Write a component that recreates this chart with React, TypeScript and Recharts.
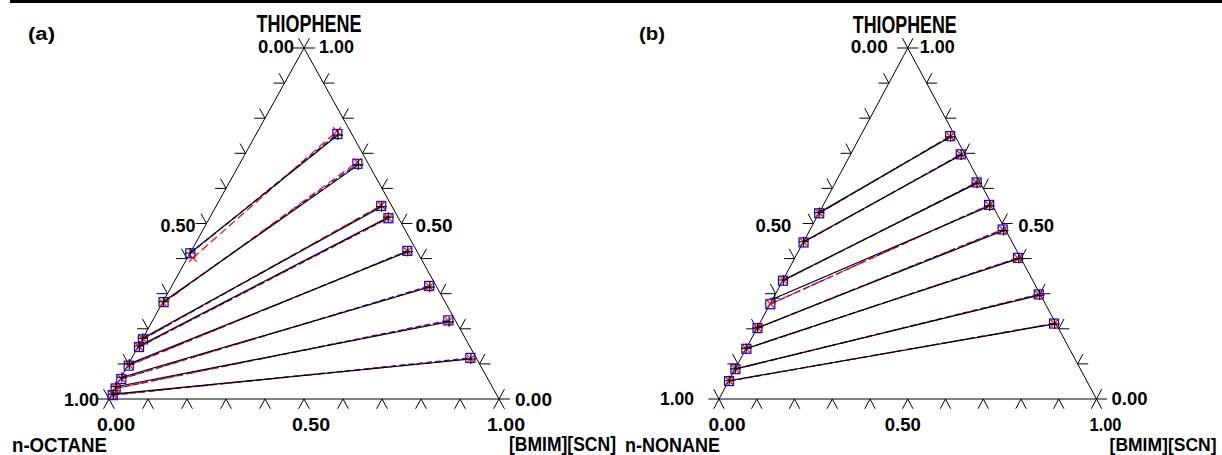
import React from "react";
import { ScatterChart, Scatter, XAxis, YAxis, ReferenceLine, ReferenceDot } from "recharts";

// (a) n-octane + thiophene + [BMIM][SCN] — mole fractions at both tie-line ends
// raffinate = n-octane rich phase, extract = IL rich phase
const octExpRafThio = [0.416, 0.277, 0.173, 0.151, 0.1, 0.062, 0.035, 0.014];
const octExpRafIL = [0.0, 0.001, 0.0, 0.002, 0.002, 0.002, 0.0, 0.004];
const octExpExtThio = [0.752, 0.667, 0.548, 0.518, 0.42, 0.319, 0.22, 0.114];
const octExpExtIL = [0.211, 0.306, 0.425, 0.457, 0.556, 0.663, 0.762, 0.871];

const octNrtlRafThio = [0.415, 0.276, 0.17, 0.148, 0.095, 0.057, 0.03, 0.011];
const octNrtlRafIL = [0.001, 0.002, 0.002, 0.003, 0.003, 0.003, 0.002, 0.004];
const octNrtlExtThio = [0.755, 0.67, 0.55, 0.515, 0.422, 0.322, 0.224, 0.117];
const octNrtlExtIL = [0.208, 0.302, 0.423, 0.459, 0.554, 0.66, 0.758, 0.868];

const octUniqRafThio = [0.402, 0.273, 0.171, 0.149, 0.096, 0.058, 0.031, 0.012];
const octUniqRafIL = [0.014, 0.003, 0.002, 0.003, 0.004, 0.003, 0.003, 0.005];
const octUniqExtThio = [0.763, 0.675, 0.552, 0.516, 0.421, 0.32, 0.222, 0.115];
const octUniqExtIL = [0.203, 0.299, 0.422, 0.458, 0.555, 0.662, 0.76, 0.87];

// (b) n-nonane + thiophene + [BMIM][SCN]
const nonExpRafThio = [0.531, 0.448, 0.339, 0.287, 0.203, 0.144, 0.086, 0.052];
const nonExpRafIL = [0.0, 0.0, 0.001, 0.004, 0.001, 0.0, 0.0, 0.001];
const nonExpExtThio = [0.747, 0.695, 0.615, 0.55, 0.48, 0.4, 0.296, 0.214];
const nonExpExtIL = [0.24, 0.294, 0.376, 0.442, 0.514, 0.594, 0.701, 0.782];

const nonNrtlRafThio = [0.529, 0.446, 0.337, 0.27, 0.202, 0.143, 0.085, 0.051];
const nonNrtlRafIL = [0.001, 0.001, 0.001, 0.001, 0.001, 0.001, 0.001, 0.001];
const nonNrtlExtThio = [0.749, 0.697, 0.617, 0.553, 0.483, 0.402, 0.298, 0.215];
const nonNrtlExtIL = [0.238, 0.292, 0.374, 0.439, 0.51, 0.591, 0.698, 0.78];

const nonUniqRafThio = [0.53, 0.447, 0.338, 0.271, 0.203, 0.143, 0.085, 0.052];
const nonUniqRafIL = [0.001, 0.001, 0.002, 0.001, 0.001, 0.001, 0.001, 0.001];
const nonUniqExtThio = [0.748, 0.696, 0.616, 0.552, 0.482, 0.401, 0.297, 0.215];
const nonUniqExtIL = [0.239, 0.293, 0.375, 0.44, 0.512, 0.592, 0.699, 0.781];

const gridSteps = [0, 0.1, 0.2, 0.3, 0.4, 0.5, 0.6, 0.7, 0.8, 0.9, 1.0];
const axisTickLabels = ["0.00", "0.50", "1.00"];

const FONT = "'Liberation Sans', Arial, Helvetica, sans-serif";
const TICK = 0.028; // tick length in mole-fraction units

type Pt = { x: number; y: number };

// ternary (thiophene, IL) -> cartesian, alkane corner at origin
const pt = (thio: number, il: number): Pt => ({ x: il + thio / 2, y: thio });

const ties = (rt: number[], ri: number[], et: number[], ei: number[]) =>
  rt.map((t, i) => [pt(t, ri[i]), pt(et[i], ei[i])]);

const frame: Pt[][] = [
  [pt(0, 0), pt(0, 1)],
  [pt(0, 1), pt(1, 0)],
  [pt(1, 0), pt(0, 0)],
];

// ticks drawn along the two grid directions, pointing outwards
const ticks: Pt[][] = [];
gridSteps.forEach((v) => {
  const b = pt(0, v);
  ticks.push([b, pt(-TICK, v)], [b, pt(-TICK, v + TICK)]);
  const l = pt(1 - v, 0);
  ticks.push([l, pt(1 - v, -TICK)], [l, pt(1 - v + TICK, -TICK)]);
  const r = pt(v, 1 - v);
  ticks.push([r, pt(v, 1 - v + TICK)], [r, pt(v + TICK, 1 - v)]);
});

const Plus = (p: any) => (
  <path d={`M${p.cx - 5},${p.cy}h10M${p.cx},${p.cy - 5}v10`} stroke="#000" strokeWidth={1.2} fill="none" />
);
const Square = (p: any) => (
  <rect x={p.cx - 4.5} y={p.cy - 4.5} width={9} height={9} fill="none" stroke="#0000ff" strokeWidth={1.2} />
);
const Cross = (p: any) => (
  <path d={`M${p.cx - 4},${p.cy - 4}l8,8M${p.cx - 4},${p.cy + 4}l8,-8`} stroke="#ff0000" strokeWidth={1.2} fill="none" />
);

interface Lbl {
  at: Pt;
  text: string;
  dx: number;
  dy: number;
  anchor: "start" | "middle" | "end";
  size: number;
  len?: number;
}

const T = pt(1, 0);
const L = pt(0, 0);
const R = pt(0, 1);
const leftMid = pt(0.5, 0);
const rightMid = pt(0.5, 0.5);
const baseMid = pt(0, 0.5);

const labelsA: Lbl[] = [
  { at: L, text: "(a)", dx: -81, dy: -359, anchor: "start", size: 18, len: 27 },
  { at: T, text: "THIOPHENE", dx: 5, dy: -16, anchor: "middle", size: 23, len: 105 },
  { at: T, text: axisTickLabels[0], dx: -10, dy: 5, anchor: "end", size: 18.5, len: 36 },
  { at: T, text: axisTickLabels[2], dx: 15, dy: 5, anchor: "start", size: 18.5, len: 35 },
  { at: leftMid, text: axisTickLabels[1], dx: -11, dy: 8, anchor: "end", size: 18.5, len: 35 },
  { at: rightMid, text: axisTickLabels[1], dx: 14, dy: 8, anchor: "start", size: 18.5, len: 37 },
  { at: L, text: axisTickLabels[2], dx: -10, dy: 7, anchor: "end", size: 18.5, len: 35 },
  { at: R, text: axisTickLabels[0], dx: 16, dy: 7, anchor: "start", size: 18.5, len: 37 },
  { at: L, text: axisTickLabels[0], dx: 7, dy: 32, anchor: "middle", size: 18.5, len: 38 },
  { at: baseMid, text: axisTickLabels[1], dx: 7, dy: 32, anchor: "middle", size: 18.5, len: 38 },
  { at: R, text: axisTickLabels[2], dx: 7, dy: 32, anchor: "middle", size: 18.5, len: 38 },
  { at: L, text: "n-OCTANE", dx: -97, dy: 53, anchor: "start", size: 20, len: 95 },
  { at: R, text: "[BMIM][SCN]", dx: 10, dy: 52, anchor: "start", size: 20, len: 107 },
];

const labelsB: Lbl[] = [
  { at: L, text: "(b)", dx: -80, dy: -359, anchor: "start", size: 18, len: 26 },
  { at: T, text: "THIOPHENE", dx: -3, dy: -15, anchor: "middle", size: 23, len: 104 },
  { at: T, text: axisTickLabels[0], dx: -20, dy: 5, anchor: "end", size: 18.5, len: 37 },
  { at: T, text: axisTickLabels[2], dx: 12, dy: 5, anchor: "start", size: 18.5, len: 35 },
  { at: leftMid, text: axisTickLabels[1], dx: -22, dy: 8, anchor: "end", size: 18.5, len: 36 },
  { at: rightMid, text: axisTickLabels[1], dx: 16, dy: 8, anchor: "start", size: 18.5, len: 36 },
  { at: L, text: axisTickLabels[2], dx: -25, dy: 6, anchor: "end", size: 18.5, len: 34 },
  { at: R, text: axisTickLabels[0], dx: 15, dy: 6, anchor: "start", size: 18.5, len: 36 },
  { at: L, text: axisTickLabels[0], dx: 8, dy: 32, anchor: "middle", size: 18.5, len: 37 },
  { at: baseMid, text: axisTickLabels[1], dx: -5, dy: 32, anchor: "middle", size: 18.5, len: 36 },
  { at: R, text: axisTickLabels[2], dx: 9, dy: 32, anchor: "middle", size: 18.5, len: 32 },
  { at: L, text: "n-NONANE", dx: -94, dy: 53, anchor: "start", size: 20, len: 95 },
  // natural width, no squeezing, kept clear of the right edge
  { at: R, text: "[BMIM][SCN]", dx: 120, dy: 52, anchor: "end", size: 17.5 },
];

const renderLabel = (l: Lbl, i: number) => (
  <ReferenceDot
    key={"lbl" + i}
    x={l.at.x}
    y={l.at.y}
    r={0}
    ifOverflow="visible"
    shape={(p: any) => (
      <text
        x={p.cx + l.dx}
        y={p.cy + l.dy}
        textAnchor={l.anchor}
        fontFamily={FONT}
        fontWeight="bold"
        fontSize={l.size}
        textLength={l.len}
        lengthAdjust={l.len ? "spacingAndGlyphs" : undefined}
        fill="#000"
      >
        {l.text}
      </text>
    )}
  />
);

const seg = (s: Pt[], key: string) => (
  <ReferenceLine key={key} segment={[s[0], s[1]]} stroke="#000" strokeWidth={1} ifOverflow="visible" />
);

interface PanelProps {
  left: number;
  width: number;
  margin: { top: number; right: number; bottom: number; left: number };
  exp: Pt[][];
  nrtl: Pt[][];
  uniq: Pt[][];
  labels: Lbl[];
}

function Panel({ left, width, margin, exp, nrtl, uniq, labels }: PanelProps) {
  return (
    <div style={{ position: "absolute", left, top: 0 }}>
      <ScatterChart width={width} height={455} margin={margin}>
        <XAxis type="number" dataKey="x" domain={[0, 1]} hide />
        <YAxis type="number" dataKey="y" domain={[0, 1]} hide />
        {frame.map((s, i) => seg(s, "f" + i))}
        {ticks.map((s, i) => seg(s, "t" + i))}
        {nrtl.map((d, i) => (
          <Scatter
            key={"n" + i}
            data={d}
            line={{ stroke: "#0000ff", strokeWidth: 1.2, strokeDasharray: "6 3" }}
            shape={Square}
            isAnimationActive={false}
          />
        ))}
        {uniq.map((d, i) => (
          <Scatter
            key={"u" + i}
            data={d}
            line={{ stroke: "#ff0000", strokeWidth: 1.2, strokeDasharray: "8 4" }}
            shape={Cross}
            isAnimationActive={false}
          />
        ))}
        {exp.map((d, i) => (
          <Scatter
            key={"e" + i}
            data={d}
            line={{ stroke: "#000", strokeWidth: 1.2 }}
            shape={Plus}
            isAnimationActive={false}
          />
        ))}
        {labels.map(renderLabel)}
      </ScatterChart>
    </div>
  );
}

export default function App() {
  return (
    <div
      style={{
        position: "absolute",
        left: 0,
        top: 0,
        width: 1222,
        height: 455,
        background: "#fff",
        overflow: "hidden",
      }}
    >
      <div style={{ position: "absolute", left: 10, top: 0, width: 1212, height: 3, background: "#000" }} />
      <Panel
        left={0}
        width={640}
        margin={{ top: 48, right: 141, bottom: 56, left: 109 }}
        exp={ties(octExpRafThio, octExpRafIL, octExpExtThio, octExpExtIL)}
        nrtl={ties(octNrtlRafThio, octNrtlRafIL, octNrtlExtThio, octNrtlExtIL)}
        uniq={ties(octUniqRafThio, octUniqRafIL, octUniqExtThio, octUniqExtIL)}
        labels={labelsA}
      />
      <Panel
        left={610}
        width={612}
        margin={{ top: 48, right: 125.5, bottom: 56, left: 109 }}
        exp={ties(nonExpRafThio, nonExpRafIL, nonExpExtThio, nonExpExtIL)}
        nrtl={ties(nonNrtlRafThio, nonNrtlRafIL, nonNrtlExtThio, nonNrtlExtIL)}
        uniq={ties(nonUniqRafThio, nonUniqRafIL, nonUniqExtThio, nonUniqExtIL)}
        labels={labelsB}
      />
    </div>
  );
}
